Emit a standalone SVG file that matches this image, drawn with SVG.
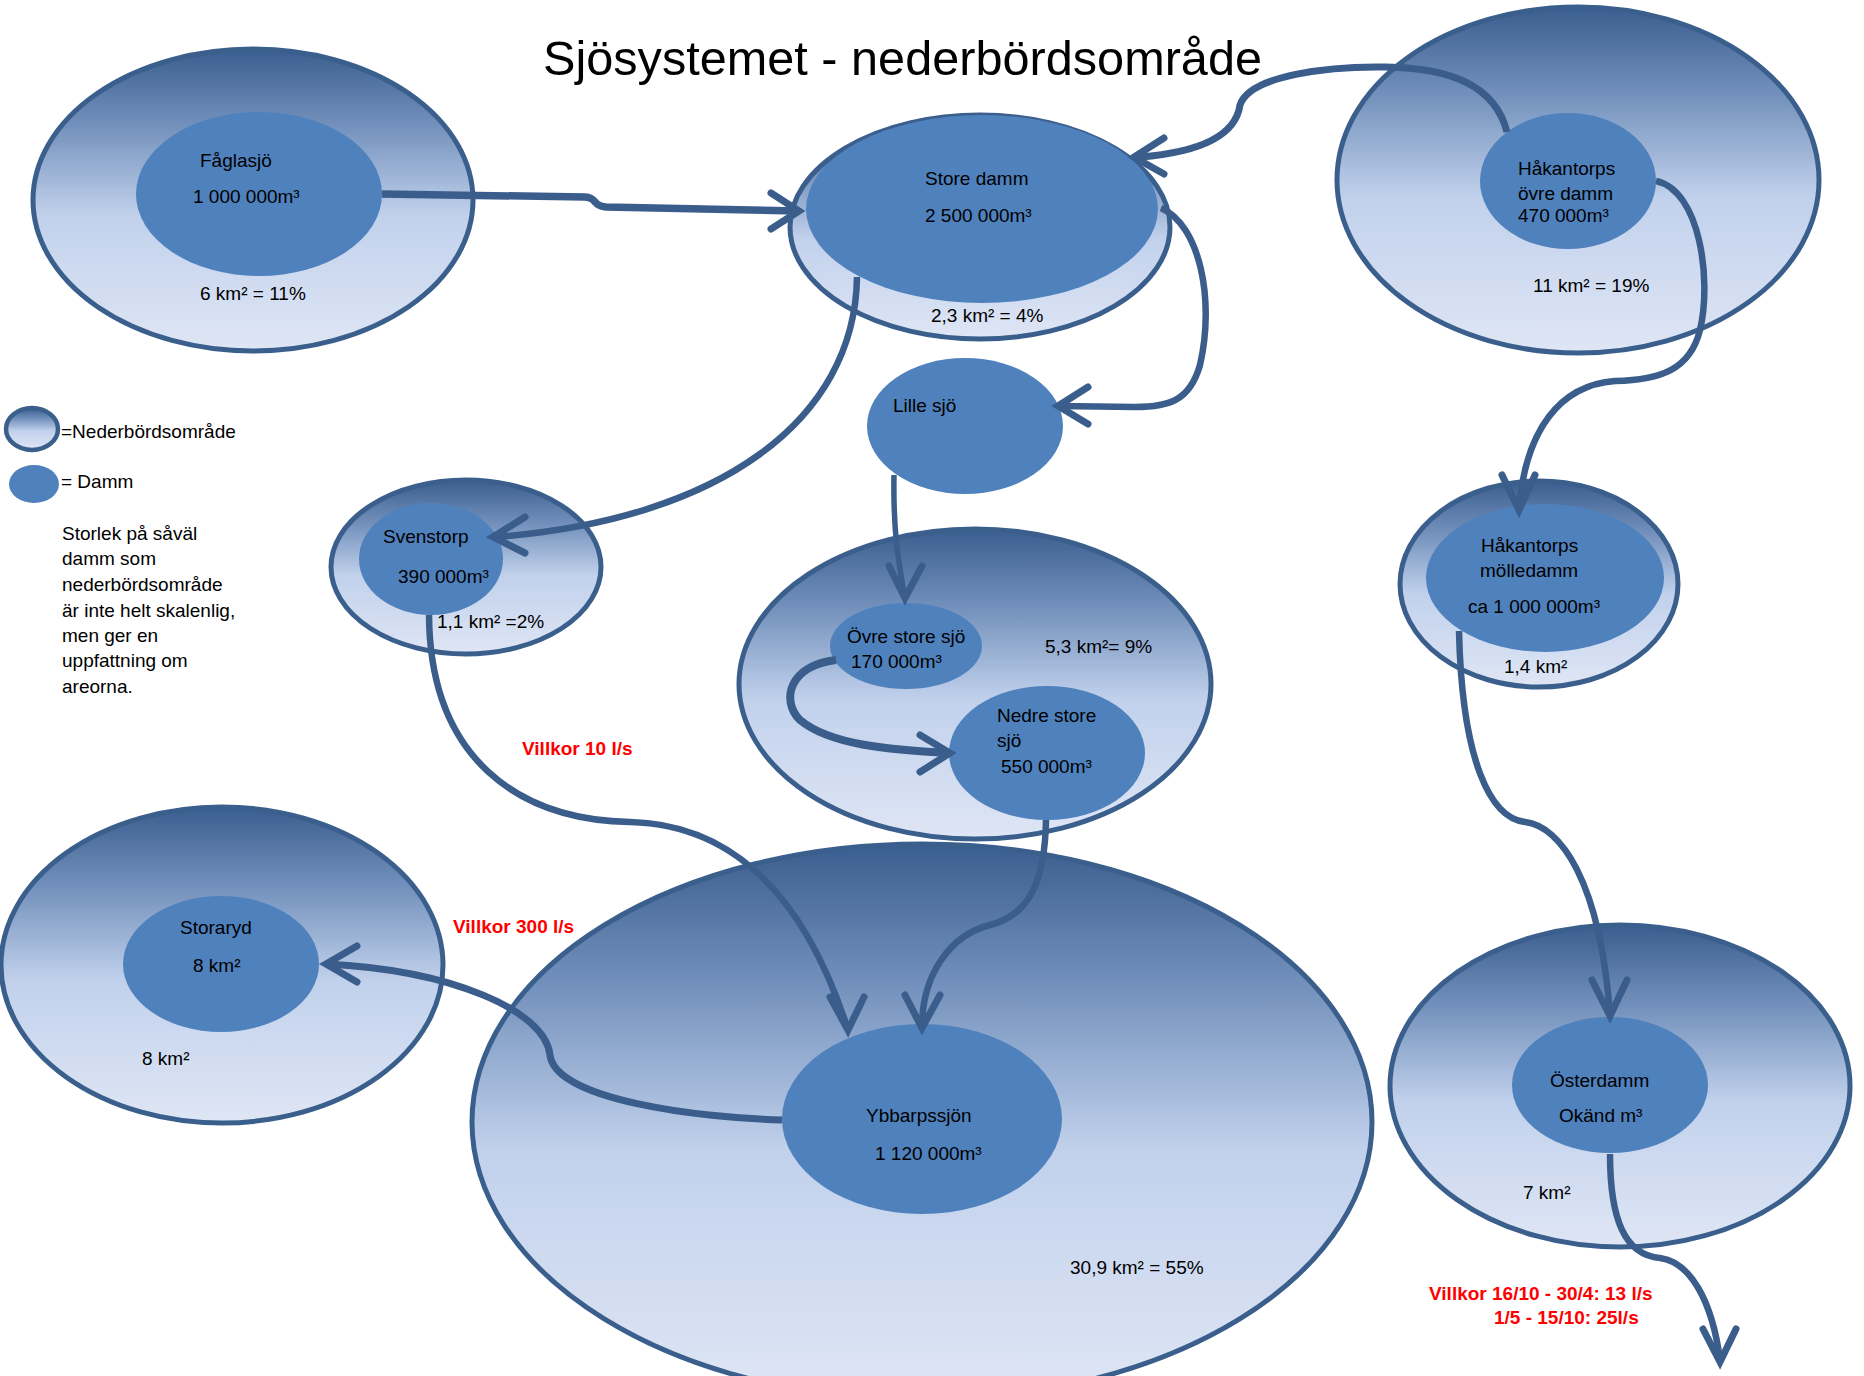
<svg xmlns="http://www.w3.org/2000/svg" width="1864" height="1376" viewBox="0 0 1864 1376">
<defs>
<linearGradient id="g" x1="0" y1="0" x2="0" y2="1">
<stop offset="0" stop-color="#3a5e90"/>
<stop offset="0.25" stop-color="#7290bb"/>
<stop offset="0.55" stop-color="#c1d1ec"/>
<stop offset="1" stop-color="#dfe6f5"/>
</linearGradient>
</defs>
<style>
.outer{fill:url(#g);stroke:#3b5f8c;stroke-width:5}
.inner{fill:#4f81bd}
.t{font-family:"Liberation Sans",Arial,sans-serif;font-size:19px;fill:#000}
.red{font-family:"Liberation Sans",Arial,sans-serif;font-size:19px;font-weight:bold;fill:#ff0000}
.c{fill:none;stroke:#3a5d8b;stroke-width:6.5;stroke-linecap:butt}
.ah{fill:none;stroke:#3a5d8b;stroke-width:7;stroke-linecap:round;stroke-linejoin:miter}
</style>
<rect width="1864" height="1376" fill="#ffffff"/>
<text x="543" y="75" font-family="'Liberation Sans',Arial,sans-serif" font-size="48" fill="#000" textLength="719" lengthAdjust="spacingAndGlyphs">Sjösystemet - nederbördsområde</text>

<g id="faglasjo">
<ellipse class="outer" cx="253" cy="200" rx="220" ry="151"/>
<ellipse class="inner" cx="259" cy="194" rx="123" ry="82"/>
<text class="t" x="200" y="167">Fåglasjö</text>
<text class="t" x="193" y="203">1 000 000m³</text>
<text class="t" x="200" y="300">6 km² = 11%</text>
</g>

<g id="store-damm">
<ellipse class="outer" cx="980" cy="227" rx="190" ry="112"/>
<ellipse class="inner" cx="982" cy="209" rx="176" ry="94"/>
<text class="t" x="925" y="185">Store damm</text>
<text class="t" x="925" y="222">2 500 000m³</text>
<text class="t" x="931" y="322">2,3 km² = 4%</text>
</g>

<g id="hakantorps-ovre">
<ellipse class="outer" cx="1578" cy="180" rx="241" ry="173"/>
<ellipse class="inner" cx="1568" cy="181" rx="88" ry="68"/>
<text class="t" x="1518" y="175">Håkantorps</text>
<text class="t" x="1518" y="200">övre damm</text>
<text class="t" x="1518" y="222">470 000m³</text>
<text class="t" x="1533" y="292">11 km² = 19%</text>
</g>

<g id="legend">
<ellipse class="outer" cx="32" cy="429" rx="26" ry="21" style="stroke-width:4.5"/>
<text class="t" x="61" y="438">=Nederbördsområde</text>
<ellipse class="inner" cx="34" cy="484" rx="25" ry="19"/>
<text class="t" x="61" y="488">= Damm</text>
<text class="t" x="62" y="540">Storlek på såväl</text>
<text class="t" x="62" y="565">damm som</text>
<text class="t" x="62" y="591">nederbördsområde</text>
<text class="t" x="62" y="617">är inte helt skalenlig,</text>
<text class="t" x="62" y="642">men ger en</text>
<text class="t" x="62" y="667">uppfattning om</text>
<text class="t" x="62" y="693">areorna.</text>
</g>

<g id="svenstorp">
<ellipse class="outer" cx="466" cy="567" rx="135" ry="87"/>
<ellipse class="inner" cx="431" cy="559" rx="72" ry="56"/>
<text class="t" x="383" y="543">Svenstorp</text>
<text class="t" x="398" y="583">390 000m³</text>
<text class="t" x="437" y="628">1,1 km² =2%</text>
</g>

<g id="lille-sjo">
<ellipse class="inner" cx="965" cy="426" rx="98" ry="68"/>
<text class="t" x="893" y="412">Lille sjö</text>
</g>

<g id="store-sjo">
<ellipse class="outer" cx="975" cy="684" rx="236" ry="155"/>
<text class="t" x="1045" y="653">5,3 km²= 9%</text>
<g id="ovre-store-sjo">
<ellipse class="inner" cx="906" cy="646" rx="76" ry="43"/>
<text class="t" x="847" y="643">Övre store sjö</text>
<text class="t" x="851" y="668">170 000m³</text>
</g>
<g id="nedre-store-sjo">
<ellipse class="inner" cx="1047" cy="753" rx="98" ry="67"/>
<text class="t" x="997" y="722">Nedre store</text>
<text class="t" x="997" y="747">sjö</text>
<text class="t" x="1001" y="773">550 000m³</text>
</g>
</g>

<g id="hakantorps-molledamm">
<ellipse class="outer" cx="1539" cy="584" rx="139" ry="103"/>
<ellipse class="inner" cx="1545" cy="578" rx="119" ry="74"/>
<text class="t" x="1481" y="552">Håkantorps</text>
<text class="t" x="1480" y="577">mölledamm</text>
<text class="t" x="1468" y="613">ca 1 000 000m³</text>
<text class="t" x="1504" y="673">1,4 km²</text>
</g>

<g id="storaryd">
<ellipse class="outer" cx="222" cy="965" rx="221" ry="158"/>
<ellipse class="inner" cx="221" cy="964" rx="98" ry="68"/>
<text class="t" x="180" y="934">Storaryd</text>
<text class="t" x="193" y="972">8 km²</text>
<text class="t" x="142" y="1065">8 km²</text>
</g>

<g id="ybbarpssjon">
<ellipse class="outer" cx="922" cy="1122" rx="450" ry="278"/>
<ellipse class="inner" cx="922" cy="1119" rx="140" ry="95"/>
<text class="t" x="866" y="1122">Ybbarpssjön</text>
<text class="t" x="875" y="1160">1 120 000m³</text>
<text class="t" x="1070" y="1274">30,9 km² = 55%</text>
</g>

<g id="osterdamm">
<ellipse class="outer" cx="1620" cy="1086" rx="230" ry="161"/>
<ellipse class="inner" cx="1610" cy="1085" rx="98" ry="68"/>
<text class="t" x="1550" y="1087">Österdamm</text>
<text class="t" x="1559" y="1122">Okänd m³</text>
<text class="t" x="1523" y="1199">7 km²</text>
</g>

<g id="labels">
<text class="red" x="522" y="755">Villkor 10 l/s</text>
<text class="red" x="453" y="933">Villkor 300 l/s</text>
<text class="red" x="1429" y="1300">Villkor 16/10 - 30/4: 13 l/s</text>
<text class="red" x="1494" y="1324">1/5 - 15/10: 25l/s</text>
</g>

<g id="connectors">
<path class="c" d="M382,194 L585,197 C598,198 592,206 606,207 L797,211" style="stroke-width:7.5"/>
<path class="ah" d="M771,193 L799,211 L771,229"/>
<path class="c" d="M1507,132 C1495,85 1450,68 1386,67 C1330,66 1250,75 1240,105 C1235,140 1190,153 1140,157" style="stroke-width:7"/>
<path class="ah" d="M1164,138 L1134,157 L1164,174"/>
<path class="c" d="M1161,208 C1200,225 1215,300 1200,365 C1190,400 1170,407 1135,407 L1058,406"/>
<path class="ah" d="M1088,387 L1058,406 L1088,424"/>
<path class="c" d="M857,277 C855,420 720,520 495,537"/>
<path class="ah" d="M525,517 L493,537 L525,553"/>
<path class="c" d="M894,475 C893,530 898,560 905,598" style="stroke-width:5.5"/>
<path class="ah" d="M889,566 L905,598 L922,566"/>
<path class="c" d="M836,660 C790,665 780,700 800,720 C830,745 890,750 950,753" style="stroke-width:8"/>
<path class="ah" d="M920,735 L950,753 L920,772"/>
<path class="c" d="M429,615 C430,760 520,820 630,822 C720,824 800,880 848,1030"/>
<path class="ah" d="M830,997 L848,1030 L864,997"/>
<path class="c" d="M1046,820 C1045,880 1030,915 990,925 C950,935 922,975 922,1027"/>
<path class="ah" d="M905,995 L922,1028 L940,995"/>
<path class="c" d="M782,1120 C700,1118 555,1100 550,1055 C545,1010 450,970 326,964" style="stroke-width:7"/>
<path class="ah" d="M357,946 L326,964 L357,982"/>
<path class="c" d="M1656,181 C1700,190 1712,280 1700,330 C1690,370 1660,380 1615,381 C1560,385 1525,430 1519,510"/>
<path class="ah" d="M1502,475 L1519,510 L1535,475"/>
<path class="c" d="M1459,631 C1462,760 1490,818 1525,822 C1560,826 1600,880 1610,1015"/>
<path class="ah" d="M1592,980 L1610,1016 L1627,980"/>
<path class="c" d="M1610,1154 C1610,1220 1625,1255 1660,1258 C1690,1262 1712,1300 1720,1360"/>
<path class="ah" d="M1703,1329 L1720,1362 L1736,1329"/>
</g>
</svg>
